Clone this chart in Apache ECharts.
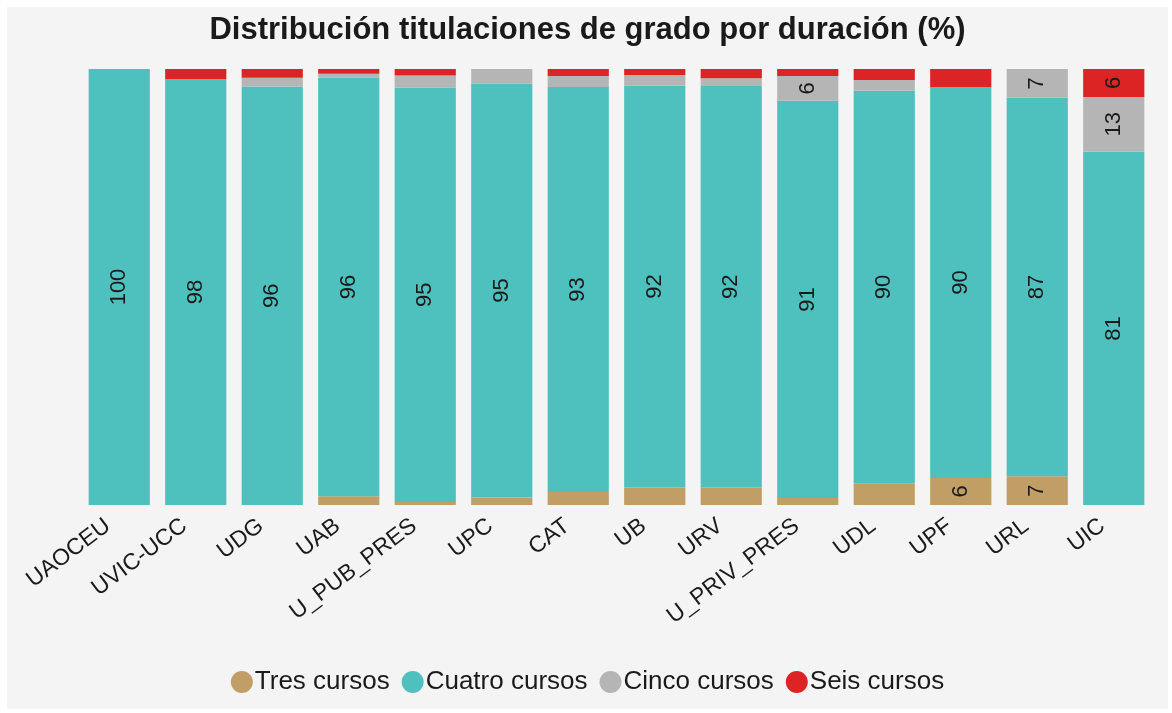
<!DOCTYPE html>
<html>
<head>
<meta charset="utf-8">
<script src="https://cdn.jsdelivr.net/npm/echarts@6/dist/echarts.min.js"></script>
<style>
  html, body { margin: 0; padding: 0; background: #fff; }
  #chart { position: absolute; left: 7px; top: 7px; width: 1161px; height: 702px; background: #f4f4f4; }
</style>
</head>
<body>
<div id="chart"></div>
<script>
// categories and % per duration
const universidades = ['UAOCEU', 'UVIC-UCC', 'UDG', 'UAB', 'U_PUB_PRES', 'UPC', 'CAT', 'UB', 'URV', 'U_PRIV_PRES', 'UDL', 'UPF', 'URL', 'UIC'];
const tres   = [0, 0, 0, 2, 0.7, 1.7, 3, 4, 4, 1.6, 5, 6.2, 6.6, 0];
const cuatro = [100, 97.7, 96, 96, 95, 95, 92.9, 92.2, 92.1, 91.1, 90, 89.7, 86.8, 81];
const cinco  = [0, 0, 2, 0.9, 2.8, 3.3, 2.5, 2.4, 1.8, 5.7, 2.5, 0, 6.6, 12.6];
const seis   = [0, 2.3, 2, 1.1, 1.5, 0, 1.6, 1.4, 2.1, 1.6, 2.5, 4.1, 0, 6.4];

const chart = echarts.init(document.getElementById('chart'));

const labelCfg = {
  show: true,
  rotate: 90,
  position: 'inside',
  fontSize: 22,
  color: '#1a1a1a',
  formatter: p => p.value >= 5.5 ? Math.round(p.value) : ''
};

function serie(name, data, color) {
  return {
    name: name,
    type: 'bar',
    stack: 'total',
    data: data,
    barCategoryGap: '20%',
    itemStyle: { color: color },
    label: labelCfg
  };
}

chart.setOption({
  backgroundColor: '#f4f4f4',
  textStyle: { fontFamily: 'Liberation Sans, Arial, sans-serif' },
  title: {
    text: 'Distribución titulaciones de grado por duración (%)',
    left: 'center',
    top: 3,
    textStyle: {
      fontSize: 31,
      fontWeight: 'bold',
      color: '#1a1a1a'
    }
  },
  legend: {
    bottom: 9,
    left: 'center',
    icon: 'circle',
    itemWidth: 22,
    itemHeight: 22,
    itemGap: 12,
    textStyle: { fontSize: 26, color: '#1a1a1a', padding: [0, 0, 0, -3] },
    data: ['Tres cursos', 'Cuatro cursos', 'Cinco cursos', 'Seis cursos']
  },
  grid: {
    left: 74,
    right: 16,
    top: 62,
    bottom: 204
  },
  xAxis: {
    type: 'category',
    data: universidades,
    axisLine: { show: false },
    axisTick: { show: false },
    axisLabel: {
      rotate: 37,
      fontSize: 23,
      color: '#1a1a1a',
      margin: 10,
      padding: [0, 14, 0, 0],
      interval: 0
    }
  },
  yAxis: {
    type: 'value',
    min: 0,
    max: 100,
    show: false,
    splitLine: { show: false }
  },
  series: [
    serie('Tres cursos', tres, '#c19e66'),
    serie('Cuatro cursos', cuatro, '#4ec1be'),
    serie('Cinco cursos', cinco, '#b5b5b5'),
    serie('Seis cursos', seis, '#dc2424')
  ]
});
</script>
</body>
</html>
